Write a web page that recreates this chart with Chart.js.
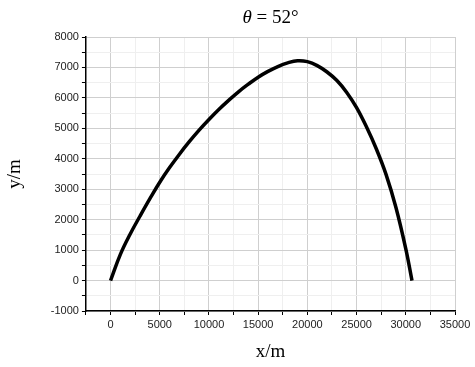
<!DOCTYPE html>
<html>
<head>
<meta charset="utf-8">
<script src="https://cdn.jsdelivr.net/npm/chart.js@4"></script>
<style>
  html, body { margin: 0; padding: 0; background: #fff; }
  #wrap { width: 475px; height: 367px; }
</style>
</head>
<body>
<div id="wrap"><canvas id="myChart" width="475" height="367"></canvas></div>
<script>
// trajectory (x in m, y in m)
var trajX = [0, 1000, 2000, 3000, 4000, 5000, 6000, 7000, 8000, 9000, 10000, 11000, 12000, 13000, 14000, 15000, 16000, 17000, 18000, 19000, 20000, 21000, 22000, 23000, 24000, 25000, 26000, 27000, 28000, 29000, 30000, 30630];
var trajY = [0, 860, 1530, 2120, 2690, 3230, 3710, 4150, 4560, 4940, 5290, 5620, 5920, 6200, 6450, 6680, 6870, 7030, 7150, 7220, 7190, 7060, 6850, 6570, 6180, 5680, 5050, 4330, 3480, 2400, 1040, 0];

var xTicks = [-2500, 0, 2500, 5000, 7500, 10000, 12500, 15000, 17500, 20000, 22500, 25000, 27500, 30000, 32500, 35000];
var yTicks = [-1000, -500, 0, 500, 1000, 1500, 2000, 2500, 3000, 3500, 4000, 4500, 5000, 5500, 6000, 6500, 7000, 7500, 8000];

var tituloA = 'θ';
var tituloB = ' = 52°';
var tituloX = 'x/m';
var tituloY = 'y/m';

var puntos = [];
trajX.forEach(function(v, i) {
  puntos.push({ x: v, y: trajY[i] });
});

function esMayor(v, paso) { return v % paso === 0; }

// title centred over the plot area, theta in italics
var tituloPlugin = {
  id: 'tituloPlugin',
  afterDraw: function(chart) {
    var c = chart.ctx;
    var area = chart.chartArea;
    c.save();
    c.fillStyle = '#000';
    c.textBaseline = 'alphabetic';
    var fA = 'italic 19px "Liberation Serif"';
    var fB = '19px "Liberation Serif"';
    c.font = fA;
    var wA = c.measureText(tituloA).width;
    c.font = fB;
    var wB = c.measureText(tituloB).width;
    var x0 = (area.left + area.right) / 2 - (wA + wB) / 2;
    c.font = fA;
    c.fillText(tituloA, x0, 23);
    c.font = fB;
    c.fillText(tituloB, x0 + wA, 23);
    c.restore();
  }
};

var ctx = document.getElementById('myChart').getContext('2d');

var myChart = new Chart(ctx, {
  type: 'scatter',
  data: {
    datasets: [{
      data: puntos,
      showLine: true,
      borderColor: '#000',
      borderWidth: 3.5,
      pointRadius: 0,
      tension: 0.4,
      fill: false
    }]
  },
  options: {
    responsive: false,
    animation: false,
    layout: { padding: { left: 4, right: 20, top: 37, bottom: 4 } },
    plugins: {
      legend: { display: false },
      tooltip: { enabled: false },
      title: { display: false }
    },
    scales: {
      x: {
        type: 'linear',
        min: -2500,
        max: 35000,
        afterBuildTicks: function(axis) {
          axis.ticks = xTicks.map(function(v) { return { value: v }; });
        },
        ticks: {
          autoSkip: false,
          maxRotation: 0,
          color: '#222',
          font: { family: 'Liberation Sans', size: 11 },
          padding: 3,
          callback: function(v) { return (esMayor(v, 5000) && v >= 0) ? v : ''; }
        },
        grid: {
          color: function(c) { return esMayor(c.tick.value, 5000) ? '#cfcfcf' : '#efefef'; },
          tickColor: '#000',
          tickLength: 4,
          lineWidth: 1
        },
        border: { color: '#000', width: 1.5 },
        title: {
          display: true,
          text: tituloX,
          color: '#000',
          font: { family: 'Liberation Serif', size: 19 },
          padding: { top: 6, bottom: 0 }
        }
      },
      y: {
        type: 'linear',
        min: -1000,
        max: 8000,
        afterBuildTicks: function(axis) {
          axis.ticks = yTicks.map(function(v) { return { value: v }; });
        },
        ticks: {
          autoSkip: false,
          color: '#222',
          font: { family: 'Liberation Sans', size: 11 },
          padding: 3,
          callback: function(v) { return esMayor(v, 1000) ? v : ''; }
        },
        grid: {
          color: function(c) { return esMayor(c.tick.value, 1000) ? '#cfcfcf' : '#efefef'; },
          tickColor: '#000',
          tickLength: 4,
          lineWidth: 1
        },
        border: { color: '#000', width: 1.5 },
        title: {
          display: true,
          text: tituloY,
          color: '#000',
          font: { family: 'Liberation Serif', size: 19 },
          padding: { top: 0, bottom: 21 }
        }
      }
    }
  },
  plugins: [tituloPlugin]
});
</script>
</body>
</html>
